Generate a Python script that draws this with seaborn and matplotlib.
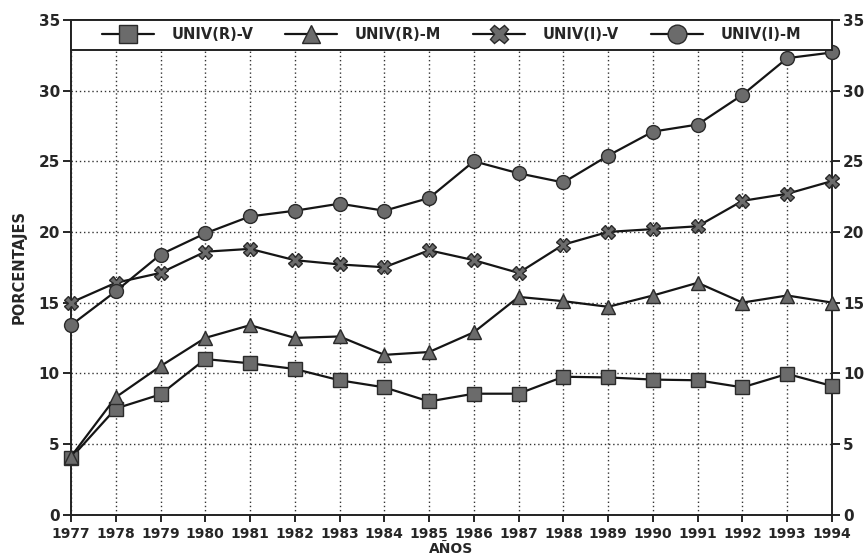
import matplotlib
matplotlib.use('Agg')
import matplotlib.pyplot as plt
import matplotlib.patches as mpatches
import seaborn as sns
import pandas as pd

# -- Data --
years = list(range(1977, 1995))
univ_r_v = [4.0, 7.5, 8.5, 11.0, 10.7, 10.3, 9.5, 9.0, 8.0, 8.55, 8.55, 9.75, 9.7, 9.55, 9.5, 9.0, 9.95, 9.1]
univ_r_m = [4.1, 8.3, 10.5, 12.5, 13.4, 12.5, 12.6, 11.3, 11.5, 12.9, 15.4, 15.1, 14.7, 15.5, 16.4, 15.0, 15.5, 15.0]
univ_i_v = [15.0, 16.4, 17.1, 18.6, 18.8, 18.0, 17.7, 17.5, 18.7, 18.0, 17.1, 19.1, 20.0, 20.2, 20.4, 22.2, 22.7, 23.6]
univ_i_m = [13.4, 15.8, 18.4, 19.9, 21.1, 21.5, 22.0, 21.5, 22.4, 25.0, 24.15, 23.5, 25.4, 27.1, 27.6, 29.7, 32.3, 32.7]

series_names = ['UNIV(R)-V', 'UNIV(R)-M', 'UNIV(I)-V', 'UNIV(I)-M']
series_values = [univ_r_v, univ_r_m, univ_i_v, univ_i_m]
marker_list = ['s', '^', 'X', 'o']
y_ticks = [0, 5, 10, 15, 20, 25, 30, 35]

df = pd.DataFrame({'year': years})
for name, vals in zip(series_names, series_values):
    df[name] = vals
long_df = df.melt(id_vars='year', var_name='serie', value_name='pct')

# -- Style --
sns.set_style('ticks')
plt.rcParams['font.family'] = ['DejaVu Sans']

fig = plt.figure(figsize=(8.65, 5.57), dpi=100)
ax = fig.add_axes([0.0821, 0.0763, 0.8797, 0.8878])

for name, mk in zip(series_names, marker_list):
    sub = long_df[long_df['serie'] == name]
    sns.lineplot(
        data=sub, x='year', y='pct', ax=ax,
        color='#151515', linewidth=1.6,
        marker=mk, markersize=10,
        markerfacecolor='#6b6b6b', markeredgecolor='#2a2a2a',
        markeredgewidth=1.0, label=name, clip_on=False, zorder=3
    )

ax.set_xlim(1977, 1994)
ax.set_ylim(0, 35)
ax.set_xticks(years)
ax.set_yticks(y_ticks)
ax.grid(True, linestyle=(0, (1, 2)), color='#333333', linewidth=1.0)

for side in ['left', 'bottom', 'right', 'top']:
    ax.spines[side].set_visible(True)
    ax.spines[side].set_linewidth(1.4)
    ax.spines[side].set_color('#222222')

ax.tick_params(axis='y', left=True, right=True, labelleft=True, labelright=True,
               direction='out', length=6, width=1.4, pad=2, labelsize=11)
ax.tick_params(axis='x', bottom=True, direction='out', length=5, width=1.4,
               pad=4, labelsize=10)
for lbl in ax.get_xticklabels() + ax.get_yticklabels():
    lbl.set_fontweight('bold')
for t in ax.yaxis.get_major_ticks():
    t.label2.set_fontweight('bold')

ax.set_ylabel('PORCENTAJES', fontsize=10.5, fontweight='bold')
ax.yaxis.set_label_coords(-0.058, 0.5)
ax.set_xlabel('AÑOS', fontsize=10, fontweight='bold')
ax.xaxis.set_label_coords(0.5, -0.056)

# legend band across the top of the plot
band_h = 30 / 494.5
band = mpatches.Rectangle((0, 1 - band_h), 1, band_h, transform=ax.transAxes,
                          facecolor='white', edgecolor='#222222', linewidth=1.4,
                          zorder=8, clip_on=False)
ax.add_patch(band)

leg = ax.legend(loc='center', bbox_to_anchor=(0.5, 1 - band_h / 2), ncol=4,
                frameon=False, handlelength=3.56, handletextpad=1.2,
                columnspacing=2.2, markerscale=1.35, borderpad=0, borderaxespad=0,
                prop={'weight': 'bold', 'size': 10.5})
leg.set_zorder(9)

plt.savefig('out.png', dpi=100)
